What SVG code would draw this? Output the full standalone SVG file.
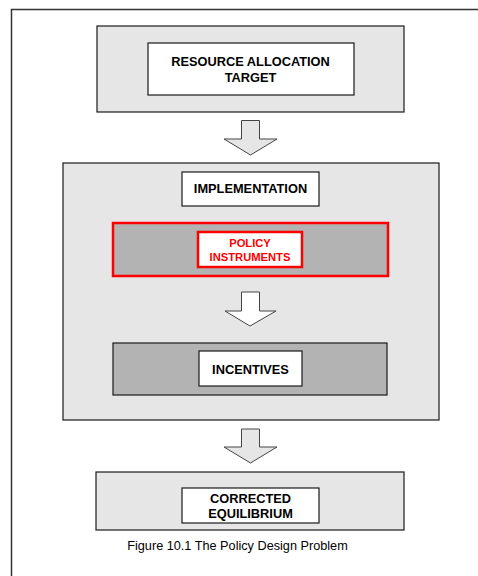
<svg xmlns="http://www.w3.org/2000/svg" width="478" height="576" viewBox="0 0 478 576">
<style>
.lt{fill:#e6e6e6;stroke:#1a1a1a;stroke-width:1.2}
.dk{fill:#b3b3b3;stroke:#1a1a1a;stroke-width:1.2}
.wb{fill:#fff;stroke:#1a1a1a;stroke-width:1.2}
.rb{fill:#b3b3b3;stroke:#ff0000;stroke-width:2.5}
.rw{fill:#fff;stroke:#ff0000;stroke-width:2.5}
.t{font-family:"Liberation Sans",Arial,sans-serif;font-size:12.8px;font-weight:bold;fill:#000;text-anchor:middle}
.tr{fill:#ff0000;font-size:11.2px}
.cap{font-family:"Liberation Sans",Arial,sans-serif;font-size:12.7px;fill:#000;text-anchor:middle}
.arr{stroke:#444;stroke-width:1;stroke-linejoin:miter}
</style>
<rect x="0" y="0" width="478" height="576" fill="#fff"/>
<path d="M11.5 576 V9.5 H478" fill="none" stroke="#333" stroke-width="1.5"/>
<g id="resource">
<rect class="lt" x="97" y="26" width="307" height="86"/>
<rect class="wb" x="148" y="43" width="206" height="52"/>
<text class="t" x="250.5" y="66">RESOURCE ALLOCATION</text>
<text class="t" x="250.5" y="81.5">TARGET</text>
</g>
<g id="implementation">
<rect class="lt" x="63" y="163" width="376" height="257"/>
<rect class="wb" x="182" y="172" width="137" height="34"/>
<text class="t" x="250.5" y="193">IMPLEMENTATION</text>
</g>
<g id="policy">
<rect class="rb" x="113" y="223" width="275" height="53"/>
<rect class="rw" x="198" y="232" width="104" height="35"/>
<text class="t tr" x="250" y="246.5">POLICY</text>
<text class="t tr" x="250" y="261">INSTRUMENTS</text>
</g>
<g id="incentives">
<rect class="dk" x="113" y="343" width="274" height="52"/>
<rect class="wb" x="199" y="351" width="103" height="35"/>
<text class="t" x="250.5" y="373.6">INCENTIVES</text>
</g>
<g id="equilibrium">
<rect class="lt" x="96" y="472" width="308" height="58"/>
<rect class="wb" x="182" y="488" width="137" height="35"/>
<text class="t" x="250.5" y="503">CORRECTED</text>
<text class="t" x="250.5" y="517.5">EQUILIBRIUM</text>
</g>
<g id="connectors">
<path class="arr" fill="#e6e6e6" d="M241.5 120.5 H259.5 V139 H277 L250.5 155 L224 139 H241.5 Z"/>
<path class="arr" fill="#fff" d="M241.5 292 H259.5 V311 H276 L250 326 L225 311 H241.5 Z"/>
<path class="arr" fill="#e6e6e6" d="M241.5 429 H259.5 V447 H277 L250.5 463 L224 447 H241.5 Z"/>
</g>
<text class="cap" x="237.5" y="549.5">Figure 10.1 The Policy Design Problem</text>
</svg>
